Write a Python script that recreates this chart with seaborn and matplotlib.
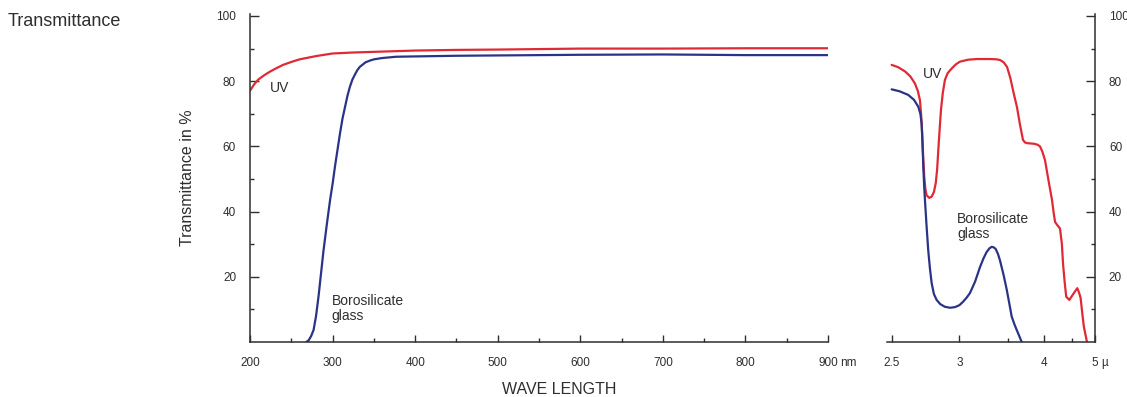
import matplotlib
matplotlib.use("Agg")
import matplotlib.pyplot as plt
from matplotlib.ticker import FixedLocator
import numpy as np
import seaborn as sns

# left panel: wavelength in nm
uv_nm = [200, 205, 210, 217, 224, 232, 240, 250, 260, 270, 280, 290, 300, 325, 350, 400, 450,
         500, 600, 700, 800, 900]
uv_nm_pct = [77.1, 79.0, 80.5, 81.8, 82.9, 84.0, 85.0, 85.9, 86.7, 87.2, 87.7, 88.1, 88.5, 88.8,
             89.0, 89.4, 89.6, 89.7, 90.0, 90.0, 90.1, 90.1]

boro_nm = [268, 271, 274, 277, 280, 283, 286, 289, 293, 297, 300, 303, 306, 309, 312, 315, 318,
           321, 324, 327, 330, 333, 337, 340, 345, 350, 360, 377, 400, 450, 600, 700, 800, 900]
boro_nm_pct = [0, 0.5, 1.8, 3.7, 8, 14, 21, 28, 36, 43.6, 48.5, 54, 59, 64, 68.5, 72, 75.5,
               78.3, 80.5, 82, 83.4, 84.4, 85.2, 85.8, 86.3, 86.7, 87.1, 87.5, 87.6, 87.8, 88.1,
               88.2, 88.0, 88.0]

# right panel: wavelength in micron (reciprocal scale)
uv_mu = [2.50, 2.54, 2.585, 2.62, 2.652, 2.672, 2.687, 2.695, 2.703, 2.71, 2.718, 2.726, 2.735,
         2.755, 2.773, 2.79, 2.804, 2.815, 2.824, 2.835, 2.845, 2.86, 2.877, 2.90, 2.933, 2.97,
         3.005, 3.08, 3.164, 3.30, 3.37, 3.408, 3.45, 3.49, 3.53, 3.57, 3.614, 3.65, 3.692,
         3.72, 3.747, 3.85, 3.90, 3.935, 3.97, 4.013, 4.07, 4.127, 4.16, 4.18, 4.22, 4.266,
         4.30, 4.32, 4.35, 4.38, 4.44, 4.52, 4.60, 4.635, 4.67, 4.70, 4.74, 4.81]
uv_mu_pct = [85.0, 84.3, 83.0, 81.5, 79.3, 77.0, 74.2, 70.0, 64.0, 57.0, 50.7, 47.0, 45.0,
             44.2, 44.6, 46.0, 48.7, 53.0, 58.9, 65.5, 71.2, 76.5, 80.4, 82.5, 83.9, 85.2,
             86.0, 86.6, 86.8, 86.8, 86.7, 86.5, 85.8, 84.4, 81.0, 76.5, 72.0, 67.0, 62.0,
             61.2, 61.0, 60.8, 60.5, 60.0, 58.5, 55.8, 49.5, 43.6, 39.0, 36.8, 35.8, 34.8,
             30.0, 24.2, 18.5, 13.9, 12.9, 14.8, 16.5, 15.2, 13.5, 9.5, 4.7, 0]

boro_mu = [2.50, 2.55, 2.606, 2.645, 2.675, 2.69, 2.699, 2.705, 2.711, 2.717, 2.723, 2.735,
           2.747, 2.76, 2.773, 2.79, 2.811, 2.84, 2.877, 2.92, 2.961, 3.0, 3.034, 3.065, 3.096,
           3.145, 3.194, 3.23, 3.26, 3.29, 3.316, 3.34, 3.36, 3.385, 3.408, 3.45, 3.487, 3.52,
           3.547, 3.58, 3.61, 3.64, 3.675]
boro_mu_pct = [77.5, 76.9, 75.8, 74.3, 72.2, 70.0, 67.0, 61.0, 53.8, 48.0, 43.6, 35.5,
               28.2, 22.5, 18.0, 14.7, 12.9, 11.6, 10.8, 10.5, 10.7, 11.3, 12.4, 13.6, 15.0,
               18.5, 23.0, 25.7, 27.5, 28.7, 29.2, 29.0, 28.5, 27.0, 25.0, 20.5, 16.0, 11.5,
               7.8, 5.5, 3.7, 2.0, 0]

nm_ticks = [200, 300, 400, 500, 600, 700, 800, 900]
mu_ticks = [2.5, 3, 4, 5]
mu_labels = ["2.5", "3", "4", "5"]
pct_ticks = [20, 40, 60, 80, 100]

RED = "#df2a35"
BLUE = "#2a3487"
INK = "#2e2e2e"

sns.set_theme(style="white")
plt.rcParams["font.family"] = ["Liberation Sans", "DejaVu Sans"]

fig = plt.figure(figsize=(11.27, 3.97), dpi=100)
ax1 = fig.add_axes([0.22183, 0.13854, 0.51287, 0.8261])
ax2 = fig.add_axes([0.78678, 0.13854, 0.18483, 0.8261])

ax2.set_xscale("function", functions=(lambda x: -1.0 / np.asarray(x), lambda y: -1.0 / np.asarray(y)))

sns.lineplot(x=uv_nm, y=uv_nm_pct, ax=ax1, color=RED, lw=1.6)
sns.lineplot(x=boro_nm, y=boro_nm_pct, ax=ax1, color=BLUE, lw=1.6)
sns.lineplot(x=uv_mu, y=uv_mu_pct, ax=ax2, color=RED, lw=1.6)
sns.lineplot(x=boro_mu, y=boro_mu_pct, ax=ax2, color=BLUE, lw=1.6)

ax1.set_xlim(200, 900)
ax2.set_xlim(2.47, 5.0)
for ax in (ax1, ax2):
    ax.set_ylim(0, 100.6)
    ax.set_xlabel("")
    ax.set_ylabel("")
    ax.spines["top"].set_visible(False)
    for s in ax.spines.values():
        s.set_color(INK)
        s.set_linewidth(1.1)
    ax.yaxis.set_major_locator(FixedLocator(pct_ticks))
    ax.yaxis.set_minor_locator(FixedLocator([10, 30, 50, 70, 90]))
    ax.tick_params(which="both", direction="in", colors=INK, labelsize=8.5, width=1.0, bottom=True)
    ax.tick_params(axis="x", which="major", length=5, pad=11)
    ax.tick_params(axis="x", which="minor", length=3)
    ax.tick_params(axis="y", which="major", length=6.5, pad=10)
    ax.tick_params(axis="y", which="minor", length=3)

ax1.spines["right"].set_visible(False)
ax1.tick_params(axis="y", which="both", left=True, right=False)
ax2.spines["left"].set_visible(False)
ax2.yaxis.tick_right()
ax2.tick_params(axis="y", which="both", right=True, left=False)

ax1.xaxis.set_major_locator(FixedLocator(nm_ticks))
ax1.xaxis.set_minor_locator(FixedLocator([250, 350, 450, 550, 650, 750, 850]))
ax1.set_xticklabels([str(t) for t in nm_ticks])

ax2.xaxis.set_major_locator(FixedLocator(mu_ticks))
ax2.xaxis.set_minor_locator(FixedLocator([3.5, 4.5]))
ax2.set_xticklabels(mu_labels)

# units after the last tick labels
ax1.annotate("nm", xy=(900, 0), xycoords=("data", "axes fraction"), xytext=(8.5, -14.8),
             textcoords="offset points", ha="left", va="center", fontsize=8.5, color=INK)
ax2.annotate("µ", xy=(5.0, 0), xycoords=("data", "axes fraction"), xytext=(4.5, -14.8),
             textcoords="offset points", ha="left", va="center", fontsize=8.5, color=INK)

# curve labels
ax1.text(224, 78, "UV", fontsize=10, color=INK, ha="left", va="center")
ax1.text(299, 14.6, "Borosilicate\nglass", fontsize=10, color=INK, ha="left", va="top", linespacing=1.05)
ax2.text(2.709, 82.2, "UV", fontsize=10, color=INK, ha="left", va="center")
ax2.text(2.98, 39.8, "Borosilicate\nglass", fontsize=10, color=INK, ha="left", va="top", linespacing=1.05)

fig.text(8 / 1127, 1 - 22 / 397, "Transmittance", fontsize=13, color=INK, ha="left", va="center")
fig.text(187 / 1127, 1 - 178 / 397, "Transmittance in %", fontsize=11.5, color=INK,
         rotation=90, ha="center", va="center")
fig.text(559 / 1127, 1 - 389 / 397, "WAVE LENGTH", fontsize=11.5, color=INK, ha="center", va="center")

fig.savefig("out.png", dpi=100)
